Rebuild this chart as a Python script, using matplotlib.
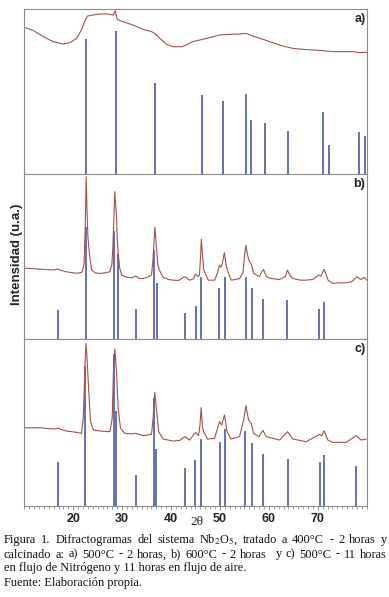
import numpy as np
import matplotlib.pyplot as plt
from matplotlib.ticker import MultipleLocator

plt.rcParams['mathtext.fontset'] = 'stix'

# ---- datos (2theta, intensidad 0-100 por panel) ----
xa = [10, 11.8, 13.9, 15.9, 18.0, 19.3, 20.7, 21.7, 22.4, 22.9, 24.1, 25.4, 26.8, 28.2,
      28.6, 29.0, 30.2, 32.2, 34.3, 36.0, 36.9, 37.7, 39.0, 40.4, 42.1, 43.1, 44.4, 45.9,
      47.9, 49.9, 52.0, 54.0, 55.4, 56.7, 58.8, 60.8, 62.9, 64.9, 67.0, 69.0, 71.1, 73.1,
      75.2, 77.2, 78.6, 80.0]
ya = [88.9, 87.0, 83.2, 80.2, 78.7, 79.5, 82.2, 87.3, 92.9, 95.7, 96.4, 97.0, 97.0, 96.4,
      99.0, 93.7, 92.3, 90.3, 87.6, 86.3, 84.6, 82.2, 78.7, 77.1, 77.1, 78.1, 80.2, 81.2,
      82.6, 84.2, 84.6, 84.8, 85.2, 83.6, 81.6, 79.5, 77.5, 76.1, 75.5, 75.1, 74.7, 74.1,
      74.1, 74.1, 73.5, 73.7]

xb = [10.0, 11.5, 13, 14.5, 16.0, 16.9, 17.5, 18.6, 20, 21, 21.8, 22.2, 22.4, 22.55, 22.65,
      22.8, 23.0, 23.3, 23.75, 24.5, 25.5, 26.5, 27.5, 27.9, 28.1, 28.3, 28.5, 28.7, 28.85,
      29.0, 29.2, 29.5, 29.9, 30.9, 32, 32.8, 33.5, 34.3, 35.3, 36.0, 36.3, 36.55, 36.7,
      36.85, 37.0, 37.3, 37.6, 38.4, 39.5, 40.4, 41.5, 42.8, 43.8, 44.6, 45.0, 45.5, 45.8,
      46.0, 46.2, 46.4, 46.7, 47.6, 48.9, 49.5, 49.9, 50.2, 50.5, 50.9, 51.2, 51.5, 52.3,
      53.2, 54.0, 54.7, 55.0, 55.3, 55.6, 55.9, 56.4, 56.9, 58.0, 58.9, 59.5, 60.5, 62.2,
      63.4, 63.8, 64.3, 64.9, 66.5, 67.6, 69.0, 70.2, 70.6, 71.3, 71.7, 72.1, 73.1, 74.5,
      75.8, 77.0, 78.0, 78.8, 79.5, 80.0]
yb = [42.8, 42.6, 42.3, 42.0, 41.8, 42.3, 41.5, 40.7, 40.0, 39.8, 40.5, 45, 62, 82, 98.2,
      80, 62, 51.8, 41.7, 40.0, 39.7, 40.0, 40.7, 45, 55, 72, 89.1, 80, 74,
      60, 52, 43, 38.7, 37.3, 37.0, 38.1, 36.6, 36.6, 37.5, 38.7, 47.7, 60, 67.5,
      62, 55.8, 45, 41.7, 37.3, 36.0, 35.6, 35.4, 37.7, 35.6, 36.4, 39.3, 37.8, 38.5,
      48, 60.4, 52, 41.7, 35.6, 35.6, 40, 44.7, 43.5, 46, 52.2, 46, 41.7, 35.6,
      36, 36.6, 40, 49.8, 56.8, 51.5, 47.7, 45.3, 39.7, 37.7, 42.1, 37.7, 36.6, 36.0,
      38, 41.7, 38.5, 36.6, 35.6, 35.6, 36.0, 38.7, 38.0, 42.1, 39, 35.6, 33.6, 34.0,
      34.0, 34.8, 37.7, 36.0, 37.3, 35.6]

xc = [10.0, 11.5, 13.2, 15.0, 16.3, 16.95, 17.5, 18.65, 20.7, 21.7, 22.05, 22.4, 22.6, 22.8,
      23.07, 23.54, 24.1, 25.45, 27.0, 27.5, 27.97, 28.24, 28.5, 28.85, 29.19, 29.67, 30.55,
      31.8, 32.8, 34.3, 36.0, 36.33, 36.67, 37.0, 37.48, 38.37, 40.4, 41.8, 42.8, 43.8, 45.0,
      45.62, 45.9, 46.16, 46.4, 46.64, 47.5, 48.9, 49.9, 50.37, 50.92, 51.46, 52.28, 54.0,
      54.9, 55.3, 55.85, 56.39, 56.88, 57.97, 58.78, 59.46, 62.2, 63.82, 64.91, 67.63, 70.35,
      70.8, 71.3, 72.05, 73.07, 75.8, 77.83, 78.85, 79.86]
yc = [46.9, 46.8, 46.9, 46.3, 46.2, 46.6, 45.8, 44.9, 44.1, 43.5, 52.5, 82.4, 97.4, 90,
      74.5, 50.5, 45.5, 44.9, 44.6, 44.5, 52.5, 82.4, 94.0, 80.4, 58.5, 46.5, 43.5,
      43.2, 43.5, 42.1, 42.9, 52.5, 68.1, 58.5, 44.5, 40.1, 38.9, 39.3, 41.5, 39.5, 44.1,
      42.1, 48, 58.9, 48, 44.5, 40.1, 40.5, 50.5, 48.5, 54.5, 44.5, 40.1, 41.5,
      52.5, 60.1, 51.5, 49.5, 43.5, 41.5, 45.3, 41.5, 39.5, 44.5, 40.1, 38.5, 42.9,
      42, 45.1, 39.5, 38.1, 38.1, 42.1, 39.5, 40.1]

# patrones de referencia (barras)
pos_a = [22.6, 28.65, 36.8, 46.27, 50.69, 55.31, 56.27, 59.12, 63.95, 71.16, 72.32, 78.37, 79.73]
alt_a = [81.6, 86.6, 54.9, 47.6, 44.0, 48.2, 32.6, 30.6, 25.7, 37.3, 17.2, 25.3, 22.9]

pos_b = [16.88, 22.6, 28.31, 29.12, 32.8, 36.54, 37.08, 42.8, 45.11, 46.06, 49.8, 50.96,
         55.38, 56.47, 58.71, 63.75, 70.28, 71.3]
alt_b = [17.5, 67.9, 65.5, 51.4, 17.9, 53.8, 33.7, 15.5, 19.7, 37.7, 31.0, 37.3,
         37.7, 30.8, 24.2, 23.6, 17.9, 22.2]

pos_c = [16.88, 22.39, 28.37, 28.78, 32.8, 36.54, 37.01, 42.86, 44.97, 46.13, 50.0, 50.96,
         55.18, 56.47, 58.78, 63.88, 70.41, 71.3, 77.83]
alt_c = [26.5, 83.8, 91.0, 56.9, 18.6, 64.9, 33.9, 22.5, 27.3, 39.9, 38.3, 45.9,
         44.9, 37.7, 31.1, 27.9, 26.3, 30.5, 23.7]

etiquetas = ['a)', 'b)', 'c)']
paneles = [(xa, ya, pos_a, alt_a), (xb, yb, pos_b, alt_b), (xc, yc, pos_c, alt_c)]

W, H = 389, 597
fig = plt.figure(figsize=(W / 100, H / 100), dpi=100)

# limites de los paneles en pixeles (arriba, abajo)
limites = [(9, 173.7), (173.7, 339), (339, 506)]
izq, der = 24.3, 366.7

sans = 'Liberation Sans'
serif = 'Liberation Serif'
col_spine = '#8c8c8c'

for i, ((x, y, pos, alt), (t, b)) in enumerate(zip(paneles, limites)):
    ax = fig.add_axes([izq / W, 1 - b / H, (der - izq) / W, (b - t) / H])
    ax.vlines(pos, 0, alt, color='#5a66a8', lw=1.3)
    ax.plot(x, y, color='#a5504a', lw=0.8)
    ax.set_xlim(10, 80)
    ax.set_ylim(0, 100)
    ax.set_yticks([])
    ax.xaxis.set_major_locator(MultipleLocator(10))
    ax.xaxis.set_minor_locator(MultipleLocator(1))
    ax.tick_params(axis='x', which='major', direction='out', length=3, width=0.7,
                   color=col_spine, pad=2)
    ax.tick_params(axis='x', which='minor', direction='out', length=2, width=0.6,
                   color=col_spine)
    for s in ax.spines.values():
        s.set_color(col_spine)
        s.set_linewidth(0.8)
    if i < 2:
        ax.set_xticklabels([])
    else:
        ax.set_xticks([20, 30, 40, 50, 60, 70])
        ax.set_xticklabels(['20', '30', '40', '50', '60', '70'],
                           fontfamily=sans, fontweight='bold', fontsize=9, color='#222222')
    fig.text(365.5 / W, 1 - (t + 10) / H, etiquetas[i], ha='right', va='center',
             fontfamily=sans, fontweight='bold', fontsize=9, color='#222222')

fig.text(17 / W, 1 - 254 / H, 'Intensidad (u.a.)', rotation=90, ha='center', va='center',
         fontfamily=sans, fontweight='bold', fontsize=9.5, color='#222222')
fig.text(197 / W, 1 - 522 / H, '2θ', ha='center', va='center', fontfamily=serif,
         fontsize=9.5, color='#222222')

# pie de figura (justificado)
renderer = fig.canvas.get_renderer()
tam = 8.9


def linea_justificada(texto, yc, x0, x1):
    palabras = texto.split(' ')
    ts = [fig.text(0, 1 - yc / H, p, ha='left', va='center', fontfamily=serif,
                   fontsize=tam, color='#111111') for p in palabras]
    anchos = [tt.get_window_extent(renderer).width for tt in ts]
    hueco = ((x1 - x0) - sum(anchos)) / (len(ts) - 1)
    xx = x0
    for tt, a in zip(ts, anchos):
        tt.set_x(xx / W)
        xx += a + hueco


linea_justificada('Figura 1. Difractogramas del sistema Nb$_2$O$_5$, tratado a 400°C - 2 horas y',
                  540, 4, 387)
linea_justificada('calcinado a: a) 500°C - 2 horas, b) 600°C - 2 horas  y c) 500°C - 11 horas',
                  554.5, 4, 387)
fig.text(4 / W, 1 - 568.5 / H, 'en flujo de Nitrógeno y 11 horas en flujo de aire.', ha='left',
         va='center', fontfamily=serif, fontsize=tam, color='#111111')
fig.text(4 / W, 1 - 583 / H, 'Fuente: Elaboración propia.', ha='left', va='center',
         fontfamily=serif, fontsize=tam, color='#111111')

fig.savefig('out.png', dpi=100)
